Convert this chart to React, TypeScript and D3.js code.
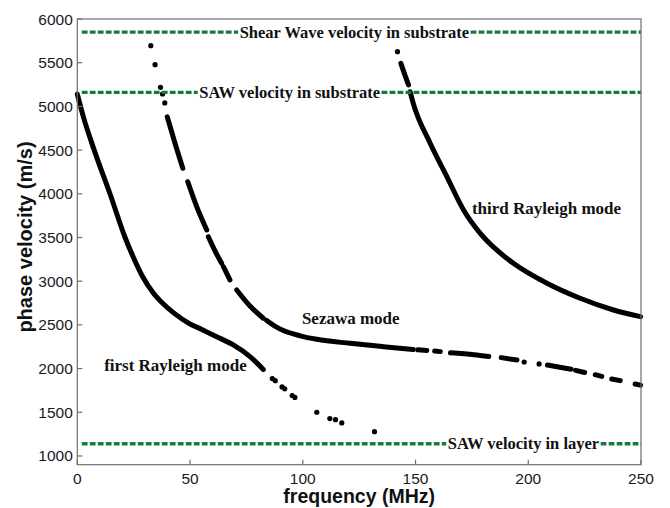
import React, { useEffect, useRef } from "react";
import * as d3 from "d3";

type P = [number, number];

// ---------- data ----------
const xTicks = [0, 50, 100, 150, 200, 250];
const yTicks = [1000, 1500, 2000, 2500, 3000, 3500, 4000, 4500, 5000, 5500, 6000];

const refNames = [
  "Shear Wave velocity in substrate",
  "SAW velocity in substrate",
  "SAW velocity in layer",
];
const refVelocity = [5850, 5160, 1140];

const modeNames = ["first Rayleigh mode", "Sezawa mode", "third Rayleigh mode"];

const firstModeCurve: P[] = [
  [0, 5140], [2.7, 4880], [7.5, 4500], [14.5, 4000], [21.2, 3500], [25, 3265],
  [29, 3050], [33.7, 2865], [38.2, 2739], [42.6, 2640], [50, 2510], [55, 2450],
  [61.8, 2365], [69.2, 2270], [76.6, 2136], [82.5, 1990],
];
const firstModeDots: P[] = [
  [86.5, 1885], [87.8, 1862], [90.8, 1790], [92, 1768], [95.3, 1692], [96.5, 1670],
  [106.2, 1500], [112, 1428], [114.5, 1415], [117.3, 1378], [131.8, 1278],
];

const sezawaDots: P[] = [
  [32.6, 5695], [34.5, 5477], [36.9, 5218], [37.8, 5142], [38.8, 5040],
  [198.2, 2075], [204.8, 2053],
];
const sezawaSegments: P[][] = [
  [[39.9, 4880], [43.2, 4590], [46.8, 4292]],
  [[49, 4138], [53, 3850], [57.4, 3586]],
  [[58.1, 3509], [61, 3350], [64, 3205]],
  [[64.8, 3166], [67.7, 3014]],
  [[70.7, 2899], [76.6, 2715], [82.5, 2576]],
  [[84, 2550], [88, 2480], [91.4, 2435], [98.8, 2375], [106.2, 2335], [121, 2289], [135.8, 2250], [149, 2218]],
  [[151, 2214], [155, 2207]],
  [[158.5, 2200], [161, 2194]],
  [[165.5, 2180], [176, 2158], [182.5, 2138]],
  [[188, 2125], [195, 2098]],
  [[208.5, 2040], [214, 2015], [219, 1993]],
  [[221, 1980], [225, 1955]],
  [[229.7, 1930], [232.6, 1910]],
  [[237, 1881], [240.8, 1862]],
  [[247.4, 1824], [249.8, 1810]],
];

const thirdModeDots: P[] = [[142, 5626]];
const thirdModeSegments: P[][] = [
  [[143.5, 5493], [145, 5380], [146.9, 5245]],
  [
    [147.6, 5168], [149, 5035], [156.5, 4578], [163.9, 4196],
    [171.3, 3815], [178.7, 3548], [186, 3357], [193.4, 3205], [208.3, 2976],
    [223, 2804], [237.8, 2670], [249.8, 2594],
  ],
];

// ---------- layout ----------
const W = 670;
const H = 508;
const M = { left: 77.3, right: 641, top: 19, bottom: 464.7 };
const refLabelAt = [72, 54.1, 164.3];
const modeLabelAt: P[] = [[11.9, 1969], [99.6, 2510], [175, 3769]];
const GREEN = "#177a3d";

export default function App() {
  const ref = useRef<SVGSVGElement>(null);

  useEffect(() => {
    const svg = d3.select(ref.current as SVGSVGElement);
    svg.selectAll("*").remove();

    const x = d3.scaleLinear().domain([0, 250]).range([M.left, M.right]);
    const y = d3.scaleLinear().domain([900, 6000]).range([M.bottom, M.top]);

    svg.append("rect").attr("width", W).attr("height", H).attr("fill", "#fff");

    const line = d3
      .line<P>()
      .x((d) => x(d[0]))
      .y((d) => y(d[1]))
      .curve(d3.curveMonotoneX);

    const segs: P[][] = [firstModeCurve, ...sezawaSegments, ...thirdModeSegments];
    svg
      .append("g")
      .selectAll("path")
      .data(segs)
      .join("path")
      .attr("d", (d) => line(d) as string)
      .attr("fill", "none")
      .attr("stroke", "#000")
      .attr("stroke-width", 5)
      .attr("stroke-linecap", "round")
      .attr("stroke-linejoin", "round");

    const dots: P[] = [...firstModeDots, ...sezawaDots, ...thirdModeDots];
    svg
      .append("g")
      .selectAll("circle")
      .data(dots)
      .join("circle")
      .attr("cx", (d) => x(d[0]))
      .attr("cy", (d) => y(d[1]))
      .attr("r", 2.6)
      .attr("fill", "#000");

    refNames.forEach((name, i) => {
      const yy = y(refVelocity[i]);
      const x0 = x(refLabelAt[i]);
      const t = svg
        .append("text")
        .attr("x", x0)
        .attr("y", yy + 5.5)
        .attr("font-family", "'Liberation Serif', 'Times New Roman', serif")
        .attr("font-weight", "bold")
        .attr("font-size", 16.5)
        .attr("fill", "#111")
        .text(name);
      const w = (t.node() as SVGTextElement).getComputedTextLength();
      const parts: [number, number][] = [
        [M.left + 4.5, x0 - 1.5],
        [x0 + w + 1.5, M.right],
      ];
      parts.forEach(([a, b]) => {
        svg
          .append("line")
          .attr("x1", a)
          .attr("x2", b)
          .attr("y1", yy)
          .attr("y2", yy)
          .attr("stroke", GREEN)
          .attr("stroke-width", 3.4)
          .attr("stroke-dasharray", "5.8 2.2");
      });
    });

    modeNames.forEach((name, i) => {
      svg
        .append("text")
        .attr("x", x(modeLabelAt[i][0]))
        .attr("y", y(modeLabelAt[i][1]))
        .attr("font-family", "'Liberation Serif', 'Times New Roman', serif")
        .attr("font-weight", "bold")
        .attr("font-size", 17)
        .attr("fill", "#111")
        .text(name);
    });

    svg
      .append("rect")
      .attr("x", M.left)
      .attr("y", M.top)
      .attr("width", M.right - M.left)
      .attr("height", M.bottom - M.top)
      .attr("fill", "none")
      .attr("stroke", "#6e6e6e")
      .attr("stroke-width", 1.2);

    const axisFont = "'Liberation Sans', Arial, sans-serif";

    yTicks.forEach((v) => {
      const yy = y(v);
      svg
        .append("line")
        .attr("x1", M.left)
        .attr("x2", M.left + 5)
        .attr("y1", yy)
        .attr("y2", yy)
        .attr("stroke", "#6e6e6e")
        .attr("stroke-width", 1.2);
      svg
        .append("text")
        .attr("x", M.left - 4.5)
        .attr("y", yy + 5.5)
        .attr("text-anchor", "end")
        .attr("font-family", axisFont)
        .attr("font-size", 15.5)
        .attr("fill", "#1a1a1a")
        .text(String(v));
    });

    xTicks.forEach((v) => {
      const xx = x(v);
      svg
        .append("line")
        .attr("x1", xx)
        .attr("x2", xx)
        .attr("y1", M.bottom)
        .attr("y2", M.bottom - 5)
        .attr("stroke", "#6e6e6e")
        .attr("stroke-width", 1.2);
      svg
        .append("text")
        .attr("x", xx)
        .attr("y", 483.5)
        .attr("text-anchor", "middle")
        .attr("font-family", axisFont)
        .attr("font-size", 15.5)
        .attr("fill", "#1a1a1a")
        .text(String(v));
    });

    svg
      .append("text")
      .attr("x", (M.left + M.right) / 2)
      .attr("y", 503)
      .attr("text-anchor", "middle")
      .attr("font-family", axisFont)
      .attr("font-weight", "bold")
      .attr("font-size", 19.5)
      .attr("fill", "#111")
      .text("frequency (MHz)");

    svg
      .append("text")
      .attr("transform", "translate(32,237) rotate(-90)")
      .attr("text-anchor", "middle")
      .attr("font-family", axisFont)
      .attr("font-weight", "bold")
      .attr("font-size", 20)
      .attr("fill", "#111")
      .text("phase velocity (m/s)");
  }, []);

  return (
    <svg
      ref={ref}
      width={W}
      height={H}
      style={{ position: "absolute", left: 0, top: 0, display: "block" }}
    />
  );
}
